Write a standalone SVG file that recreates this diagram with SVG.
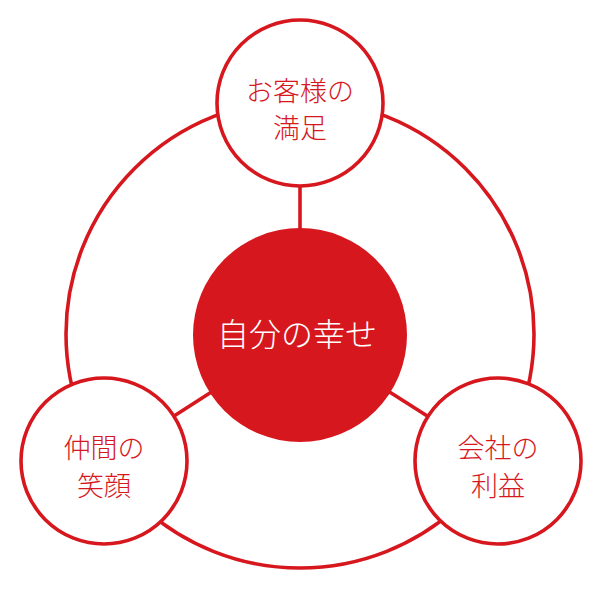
<svg xmlns="http://www.w3.org/2000/svg" width="600" height="600" viewBox="0 0 600 600">
<style>
.ring{fill:none;stroke:#D7171E;stroke-width:3.6}
.link{stroke:#D7171E;stroke-width:3.6}
.node{fill:#fff;stroke:#D7171E;stroke-width:3.6}
.lbl{fill:#D7171E;font-family:"Noto Sans CJK JP","Noto Sans CJK SC",sans-serif;font-size:27px;font-weight:300;text-anchor:middle}
.core{fill:#fff;font-family:"Noto Sans CJK JP","Noto Sans CJK SC",sans-serif;font-size:32px;font-weight:300;text-anchor:middle}
</style>
<rect width="600" height="600" fill="#fff"/>
<g id="connectors">
<circle class="ring" cx="300" cy="334" r="234"/>
<line class="link" x1="300" y1="335" x2="300" y2="103"/>
<line class="link" x1="300" y1="335" x2="104" y2="461"/>
<line class="link" x1="300" y1="335" x2="498" y2="461"/>
</g>
<g id="center">
<circle cx="300" cy="335" r="107" fill="#D7171E"/>
<text class="core" x="297" y="346">自分の幸せ</text>
</g>
<g id="customer">
<circle class="node" cx="300" cy="103" r="83"/>
<text class="lbl" x="300" y="101">お客様の</text>
<text class="lbl" x="300" y="138">満足</text>
</g>
<g id="colleagues">
<circle class="node" cx="104" cy="461" r="83"/>
<text class="lbl" x="104" y="458">仲間の</text>
<text class="lbl" x="104" y="496">笑顔</text>
</g>
<g id="company">
<circle class="node" cx="498" cy="461" r="83"/>
<text class="lbl" x="498" y="458">会社の</text>
<text class="lbl" x="498" y="496">利益</text>
</g>
</svg>
